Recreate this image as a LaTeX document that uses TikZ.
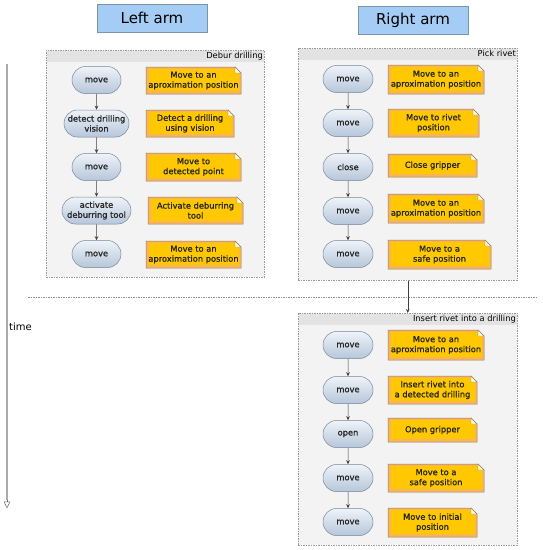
\documentclass[tikz,border=0pt]{standalone}
\usepackage{fontspec}
\setmainfont{DejaVu Sans}
\newfontfamily\medfont{DejaVu Sans}[FakeBold=1.1]
\usetikzlibrary{arrows.meta,shapes.misc}
\pgfdeclarelayer{back}
\pgfdeclarelayer{bg}
\pgfsetlayers{back,bg,main}
\definecolor{pillline}{HTML}{76869A}
\definecolor{pilltop}{HTML}{EEF3F9}
\definecolor{pillbot}{HTML}{B6C6DA}
\definecolor{noteorange}{HTML}{F8B45A}
\definecolor{noteyellow}{HTML}{FFC800}
\definecolor{noteline}{HTML}{9A7E62}
\definecolor{headfill}{HTML}{A4CCF4}
\definecolor{headline}{HTML}{7896A6}
\definecolor{contfill}{HTML}{F3F3F3}
\definecolor{contstrip}{HTML}{E3E3E3}
\definecolor{contline}{HTML}{9A9A9A}
\tikzset{
  txt/.style={font=\medfont\fontsize{8.3}{10}\selectfont, align=center, text=black!85},
  pill/.style={txt, rounded rectangle, draw=pillline, line width=0.5pt,
    top color=pilltop, bottom color=pillbot, minimum height=27pt,
    minimum width=55pt, inner xsep=3pt, inner ysep=1pt},
  notetext/.style={txt, inner sep=0pt},
  header/.style={draw=headline, fill=headfill, line width=0.6pt,
    font=\fontsize{15}{18}\selectfont, minimum width=110pt, minimum height=28pt, inner sep=0pt},
  container/.style={draw=contline, fill=contfill, dash pattern=on 1.5pt off 1pt,
    line width=0.5pt, anchor=north west, inner sep=0pt},
  ctitle/.style={font=\fontsize{8.3}{10}\selectfont, anchor=north east, inner sep=1pt},
  conn/.style={draw=black!75, line width=0.5pt, -{Stealth[length=4pt,width=3.5pt]}},
}
% name, x1, y1, x2, y2, text
\newcommand\mynote[6]{%
  \node[notetext] (#1) at ({(#2+#4)/2},{(#3+#5)/2}) {#6};
  \begin{pgfonlayer}{bg}
    \fill[noteorange] (#2,#3) -- ({#4-6},#3) -- (#4,{#3+6}) -- (#4,#5) -- (#2,#5) -- cycle;
    \fill[noteyellow] ({#2+3},{#3+2}) -- ({#4-7},{#3+2}) -- ({#4-2},{#3+7}) -- ({#4-2},{#5-3}) -- ({#2+3},{#5-3}) -- cycle;
    \draw[noteline, line width=0.5pt] (#2,#3) -- ({#4-6},#3) -- (#4,{#3+6}) -- (#4,#5) -- (#2,#5) -- cycle;
    \filldraw[fill=white!85!yellow, draw=noteline, line width=0.4pt] ({#4-6},#3) -- ({#4-6},{#3+6}) -- (#4,{#3+6}) -- cycle;
  \end{pgfonlayer}}
\begin{document}
\begin{tikzpicture}[x=1pt,y=-1pt]
\useasboundingbox (0,0) rectangle (543,550);

% headers
\node[header] (hl) at (152,18) {Left arm};
\node[header] (hr) at (413,20) {Right arm};

% containers
\begin{pgfonlayer}{back}
\node[container, minimum width=218pt, minimum height=227pt] (c1) at (46,50) {};
\node[container, minimum width=219pt, minimum height=232pt] (c2) at (298,48) {};
\node[container, minimum width=219pt, minimum height=232pt] (c3) at (298,313) {};
\fill[contstrip] ([xshift=0.5pt,yshift=-0.5pt]c1.north west) rectangle ([xshift=-0.5pt,yshift=-12pt]c1.north east);
\fill[contstrip] ([xshift=0.5pt,yshift=-0.5pt]c2.north west) rectangle ([xshift=-0.5pt,yshift=-12pt]c2.north east);
\fill[contstrip] ([xshift=0.5pt,yshift=-0.5pt]c3.north west) rectangle ([xshift=-0.5pt,yshift=-12pt]c3.north east);
\end{pgfonlayer}
\node[ctitle] (t1) at ([xshift=-0.5pt,yshift=-0.5pt]c1.north east) {Debur drilling};
\node[ctitle] (t2) at ([xshift=-0.5pt,yshift=-0.5pt]c2.north east) {Pick rivet};
\node[ctitle] (t3) at ([xshift=-0.5pt,yshift=-0.5pt]c3.north east) {Insert rivet into a drilling};

% time axis
\coordinate (ta) at (7,64);
\coordinate (tb) at (7,500);
\coordinate (tc) at (7,508.5);
\draw[line width=2.8pt, color=black!33] (ta) -- (tb);
\draw[line width=0.5pt, color=black!60, -{Triangle[open,length=7pt,width=6.5pt]}] (tb) -- (tc);
\node[font=\fontsize{10}{12}\selectfont, anchor=west, inner sep=0pt] (time) at (9,327) {time};

% divider
\coordinate (d1) at (28,297);
\coordinate (d2) at (538,297);
\draw[color=black!45, line width=0.5pt, dash pattern=on 1.5pt off 1pt] (d1) -- (d2);

% left arm
\node[pill] (l1) at (96.5,80) {move};
\node[pill, minimum width=71pt] (l2) at (96.5,123.5) {detect drilling\\vision};
\node[pill] (l3) at (96.5,167) {move};
\node[pill, minimum width=75pt] (l4) at (96.5,210.5) {activate\\deburring tool};
\node[pill] (l5) at (96.5,254) {move};
\draw[conn] (l1) -- (l2);
\draw[conn] (l2) -- (l3);
\draw[conn] (l3) -- (l4);
\draw[conn] (l4) -- (l5);
\mynote{nl1}{146}{67}{241}{94}{Move to an\\aproximation position}
\mynote{nl2}{146}{110}{234}{137}{Detect a drilling\\using vision}
\mynote{nl3}{146}{153}{241}{181}{Move to\\detected point}
\mynote{nl4}{148}{197}{243}{224}{Activate deburring\\tool}
\mynote{nl5}{146}{241}{241}{268}{Move to an\\aproximation position}

% pick rivet
\node[pill, minimum width=56pt] (p1) at (348,79) {move};
\node[pill, minimum width=56pt] (p2) at (348,123) {move};
\node[pill, minimum width=56pt] (p3) at (348,167) {close};
\node[pill, minimum width=56pt] (p4) at (348,211) {move};
\node[pill, minimum width=56pt] (p5) at (348,254) {move};
\draw[conn] (p1) -- (p2);
\draw[conn] (p2) -- (p3);
\draw[conn] (p3) -- (p4);
\draw[conn] (p4) -- (p5);
\mynote{np1}{388}{65}{484}{94}{Move to an\\aproximation position}
\mynote{np2}{388}{109}{479}{137}{Move to rivet\\position}
\mynote{np3}{388}{154}{477}{177}{Close gripper}
\mynote{np4}{388}{194}{484}{223}{Move to an\\aproximation position}
\mynote{np5}{388}{240}{491}{269}{Move to a\\safe position}

% container link
\draw[conn] (c2.south) -- (c3.north);

% insert rivet
\node[pill, minimum width=56pt] (i1) at (348,345) {move};
\node[pill, minimum width=56pt] (i2) at (348,390) {move};
\node[pill, minimum width=56pt] (i3) at (348,434) {open};
\node[pill, minimum width=56pt] (i4) at (348,478) {move};
\node[pill, minimum width=56pt] (i5) at (348,522) {move};
\draw[conn] (i1) -- (i2);
\draw[conn] (i2) -- (i3);
\draw[conn] (i3) -- (i4);
\draw[conn] (i4) -- (i5);
\mynote{ni1}{388}{330}{484}{360}{Move to an\\aproximation position}
\mynote{ni2}{388}{376}{477}{404}{Insert rivet into\\a detected drilling}
\mynote{ni3}{388}{418}{477}{442}{Open gripper}
\mynote{ni4}{388}{464}{484}{492}{Move to a\\safe position}
\mynote{ni5}{388}{508}{477}{537}{Move to initial\\position}
\end{tikzpicture}
\end{document}
